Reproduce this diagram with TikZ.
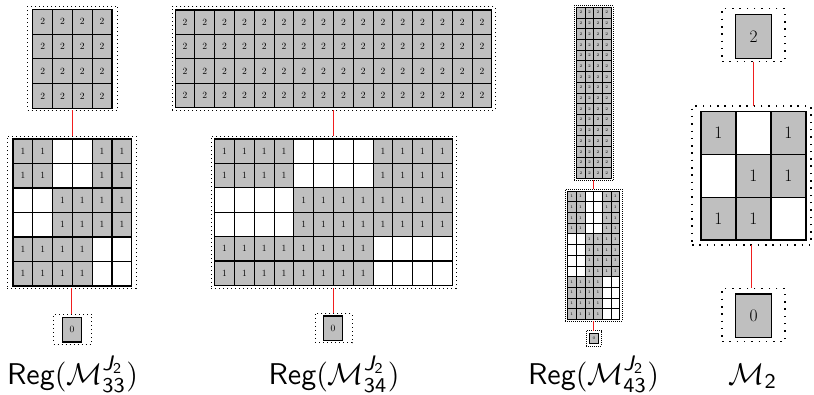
\documentclass[tikz,border=0pt]{standalone}
\usepackage{amsmath}
\usepackage{graphicx}
\usetikzlibrary{fit}

\definecolor{linkred}{RGB}{240,30,30}

% sans pieces for the captions
\newcommand\sfi[1]{\text{\sffamily\itshape #1}}
\newcommand\sfd[1]{\text{\sffamily #1}}
\newcommand\capscale[1]{\scalebox{3}{#1}}

% per-panel settings: cell line width, digit size, frame dot width and gap
\def\lw{1.1pt}\def\fs{9.5}\def\flw{1pt}\def\fgap{3pt}

\tikzset{
  cellbase/.style={draw=black, line width=\lw, inner sep=0pt, outer sep=0pt,
    font=\fontsize{\fs}{\fs}\selectfont},
  gcell/.style={cellbase, fill=lightgray},
  wcell/.style={cellbase, fill=white},
  dotframe/.style={draw=black, line width=\flw, dash pattern=on \flw off \fgap,
    inner sep=0pt, outer sep=0pt},
  redlink/.style={solid, draw=linkred, line width=1.4pt},
  capt/.style={anchor=base, inner sep=0pt}
}

% uniform grid: name, left, top, cell width, cell height, rows, cols, digit
\newcommand\fullgrid[8]{%
  \foreach \r in {1,...,#6}{%
    \foreach \c in {1,...,#7}{%
      \pgfmathsetmacro\px{#2+(\c-0.5)*#4}%
      \pgfmathsetmacro\py{#3+(\r-0.5)*#5}%
      \node[gcell, minimum width=#4pt, minimum height=#5pt] (#1-\r-\c) at (\px,\py) {#8};
    }}}

% blown-up 3x3 pattern: name, left, top, cell width, cell height, row block, col block
\newcommand\patgrid[7]{%
  \pgfmathtruncatemacro\nr{3*#6}\pgfmathtruncatemacro\nc{3*#7}%
  \foreach \r in {1,...,\nr}{%
    \foreach \c in {1,...,\nc}{%
      \pgfmathtruncatemacro\k{3*int((\r-1)/#6)+int((\c-1)/#7)}%
      \ifcase\k \def\kind{gcell}\def\txt{1}%
      \or \def\kind{wcell}\def\txt{}%
      \or \def\kind{gcell}\def\txt{1}%
      \or \def\kind{wcell}\def\txt{}%
      \or \def\kind{gcell}\def\txt{1}%
      \or \def\kind{gcell}\def\txt{1}%
      \or \def\kind{gcell}\def\txt{1}%
      \or \def\kind{gcell}\def\txt{1}%
      \or \def\kind{wcell}\def\txt{}\fi
      \pgfmathsetmacro\px{#2+(\c-0.5)*#4}%
      \pgfmathsetmacro\py{#3+(\r-0.5)*#5}%
      \node[\kind, minimum width=#4pt, minimum height=#5pt] (#1-\r-\c) at (\px,\py) {\txt};
    }}}

\begin{document}
\begin{tikzpicture}[x=1pt,y=-1pt]
\useasboundingbox (0,0) rectangle (814,394);

% ---- Reg(M_33) ----
\fullgrid{A2}{32.8}{9.3}{19.8}{24.75}{4}{4}{2}
\patgrid{A1}{13}{139}{19.8}{24.5}{2}{2}
\fullgrid{A0}{62.1}{317.5}{19.8}{24.5}{1}{1}{0}
\node[dotframe, fit={(27.5,6)(117.5,110)}] (A2f) {};
\node[dotframe, fit={(7,136)(136,288)}] (A1f) {};
\node[dotframe, fit={(53.5,314)(91.5,344)}] (A0f) {};
\node[capt] (capA) at (72.5,384.3) {\capscale{\textsf{Reg}$(\mathcal{M}^{\sfi{J}_{\sfd{2}}}_{\sfd{33}})$}};

% ---- Reg(M_34) ----
\fullgrid{B2}{175.1}{10}{19.8}{24.4}{4}{16}{2}
\patgrid{B1}{214.7}{139}{19.8}{24.4}{2}{4}
\fullgrid{B0}{323.1}{316}{19.8}{24.6}{1}{1}{0}
\node[dotframe, fit={(172,6.7)(495,110)}] (B2f) {};
\node[dotframe, fit={(211,136)(456,288)}] (B1f) {};
\node[dotframe, fit={(315,313.3)(352,342.7)}] (B0f) {};
\node[capt] (capB) at (334,384.3) {\capscale{\textsf{Reg}$(\mathcal{M}^{\sfi{J}_{\sfd{2}}}_{\sfd{34}})$}};

% ---- Reg(M_43) ----
\def\lw{0.8pt}\def\fs{4}\def\flw{0.7pt}\def\fgap{1.3pt}
\fullgrid{C2}{576.6}{7.3}{8.6}{10.7}{16}{4}{2}
\patgrid{C1}{567.5}{191}{8.7}{10.7}{4}{2}
\fullgrid{C0}{589.65}{333.15}{8.7}{10.7}{1}{1}{0}
\node[dotframe, fit={(574,5.5)(613,180.3)}] (C2f) {};
\node[dotframe, fit={(565,189.3)(622,321)}] (C1f) {};
\node[dotframe, fit={(586,330.7)(601,346)}] (C0f) {};
\node[capt] (capC) at (593.5,384.3) {\capscale{\textsf{Reg}$(\mathcal{M}^{\sfi{J}_{\sfd{2}}}_{\sfd{43}})$}};

% ---- M_2 ----
\def\lw{1.5pt}\def\fs{17.5}\def\flw{1.5pt}\def\fgap{5.8pt}
\fullgrid{D2}{735.7}{14.3}{36}{44}{1}{1}{2}
\patgrid{D1}{701}{111.7}{35}{42.8}{1}{1}
\fullgrid{D0}{735.7}{294}{36}{43.7}{1}{1}{0}
\node[dotframe, fit={(722,8.3)(785,61.7)}] (D2f) {};
\node[dotframe, fit={(692,106)(811,245)}] (D1f) {};
\node[dotframe, fit={(722,288.3)(785,341.7)}] (D0f) {};
\node[capt] (capD) at (753,384.3) {\capscale{$\mathcal{M}_{\sfd{2}}$}};

% ---- connectors between the frames ----
\draw[redlink] (A2f.south) -- (A2f.south |- A1f.north);
\draw[redlink] (A1f.south) -- (A1f.south |- A0f.north);
\draw[redlink] (B2f.south) -- (B2f.south |- B1f.north);
\draw[redlink] (B1f.south) -- (B1f.south |- B0f.north);
\draw[redlink] (C2f.south) -- (C2f.south |- C1f.north);
\draw[redlink] (C1f.south) -- (C1f.south |- C0f.north);
\draw[redlink] (D2f.south) -- (D2f.south |- D1f.north);
\draw[redlink] (D1f.south) -- (D1f.south |- D0f.north);
\end{tikzpicture}
\end{document}
